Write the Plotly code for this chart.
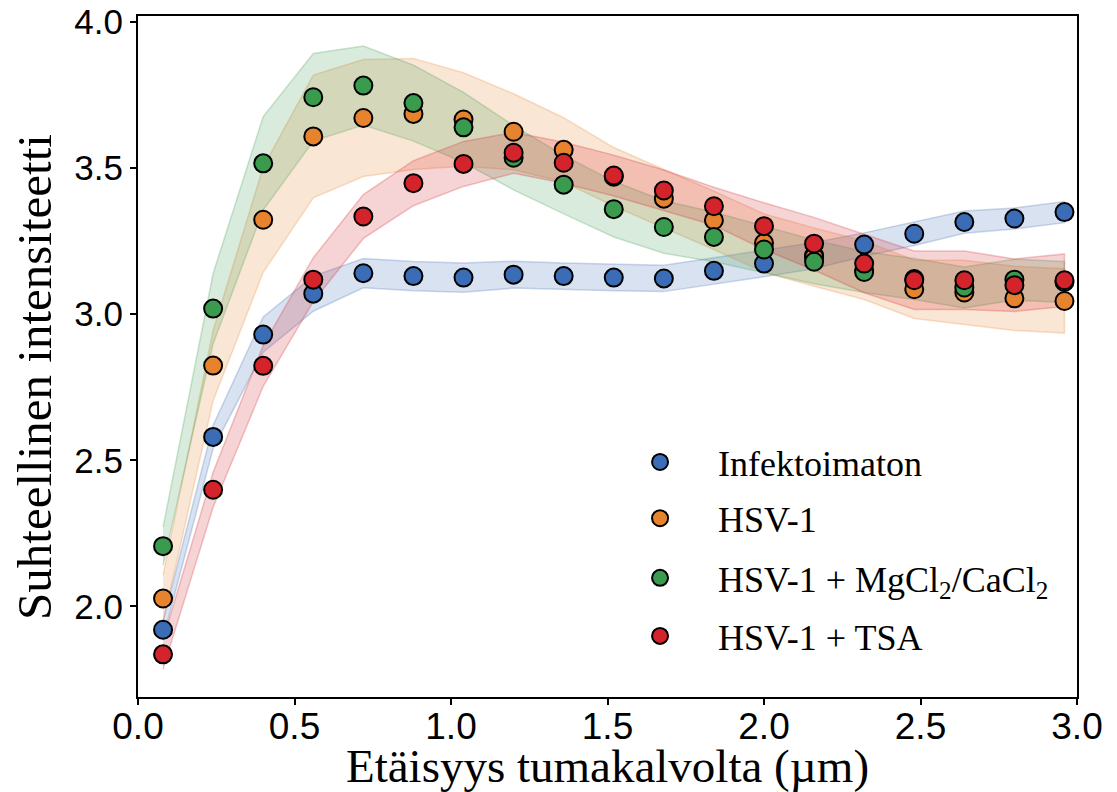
import plotly.graph_objects as go

# distance from nuclear envelope (µm)
x = [0.08, 0.24, 0.40, 0.56, 0.72, 0.88, 1.04, 1.20, 1.36, 1.52,
     1.68, 1.84, 2.00, 2.16, 2.32, 2.48, 2.64, 2.80, 2.96]

names = ["Infektoimaton", "HSV-1", "HSV-1 + MgCl<sub>2</sub>/CaCl<sub>2</sub>", "HSV-1 + TSA"]

infekt_mean = [1.92, 2.58, 2.93, 3.07, 3.14, 3.13, 3.125, 3.135, 3.13, 3.125,
               3.122, 3.148, 3.173, 3.20, 3.238, 3.275, 3.315, 3.327, 3.349]
infekt_sd = [0.03, 0.04, 0.06, 0.06, 0.05, 0.05, 0.05, 0.046, 0.045, 0.045,
             0.045, 0.045, 0.045, 0.045, 0.04, 0.04, 0.038, 0.036, 0.036]

hsv_mean = [2.027, 2.824, 3.323, 3.608, 3.671, 3.685, 3.666, 3.624, 3.562, 3.47,
            3.395, 3.321, 3.243, 3.195, 3.15, 3.085, 3.074, 3.054, 3.045]
hsv_sd = [0.08, 0.12, 0.18, 0.21, 0.20, 0.19, 0.16, 0.13, 0.11, 0.10,
          0.10, 0.10, 0.10, 0.10, 0.10, 0.10, 0.11, 0.11, 0.11]

mg_mean = [2.206, 3.019, 3.516, 3.742, 3.782, 3.722, 3.639, 3.535, 3.443, 3.359,
           3.298, 3.264, 3.221, 3.179, 3.144, 3.12, 3.091, 3.118, 3.11]
mg_sd = [0.065, 0.12, 0.16, 0.15, 0.135, 0.13, 0.12, 0.11, 0.10, 0.095,
         0.09, 0.085, 0.08, 0.075, 0.07, 0.07, 0.07, 0.07, 0.07]

tsa_mean = [1.836, 2.399, 2.823, 3.118, 3.334, 3.448, 3.514, 3.552, 3.518, 3.474,
            3.423, 3.369, 3.301, 3.241, 3.173, 3.116, 3.116, 3.099, 3.116]
tsa_sd = [0.05, 0.06, 0.07, 0.075, 0.075, 0.077, 0.077, 0.07, 0.07, 0.07,
          0.07, 0.065, 0.08, 0.09, 0.10, 0.10, 0.10, 0.09, 0.09]

means = [infekt_mean, hsv_mean, mg_mean, tsa_mean]
sds = [infekt_sd, hsv_sd, mg_sd, tsa_sd]
colors = ["#3a6db5", "#e6832f", "#3a9a4e", "#d2242a"]
fills = ["rgba(58,109,181,0.2)", "rgba(230,131,47,0.2)", "rgba(58,154,78,0.2)", "rgba(210,36,42,0.2)"]
edges = ["rgba(58,109,181,0.25)", "rgba(230,131,47,0.25)", "rgba(58,154,78,0.25)", "rgba(210,36,42,0.25)"]

fig = go.Figure()

for m, s, fc, ec in zip(means, sds, fills, edges):
    upper = [a + b for a, b in zip(m, s)]
    lower = [a - b for a, b in zip(m, s)]
    fig.add_trace(go.Scatter(
        x=x + x[::-1], y=upper + lower[::-1],
        fill="toself", fillcolor=fc, mode="lines",
        line=dict(color=ec, width=1.5),
        showlegend=False, hoverinfo="skip"))

legend_ids = ["legend", "legend2", "legend3", "legend4"]
for m, c, n, lid in zip(means, colors, names, legend_ids):
    fig.add_trace(go.Scatter(
        x=x, y=m, mode="markers", name=n, legend=lid,
        marker=dict(size=18, color=c, line=dict(color="black", width=2))))

serif = "Liberation Serif"
sans = "Liberation Sans"

leg_y = [0.345, 0.2624, 0.1748, 0.0896]
leg_common = dict(x=0.4942, xanchor="left", yanchor="middle",
                  bgcolor="rgba(0,0,0,0)", borderwidth=0,
                  font=dict(family=serif, size=36, color="black"),
                  itemwidth=106)

layout_legs = {}
for lid, ly in zip(legend_ids, leg_y):
    layout_legs[lid] = dict(leg_common, y=ly)

fig.update_layout(
    width=1109, height=784,
    margin=dict(l=130, r=40, t=8, b=95),
    plot_bgcolor="white", paper_bgcolor="white",
    **layout_legs,
)

# y-axis title (placed as rotated text, slightly below the axis centre as in the original)
fig.add_annotation(
    text="Suhteellinen intensiteetti", textangle=-90,
    xref="paper", yref="paper", x=-0.1097, y=0.47,
    xanchor="center", yanchor="middle", showarrow=False,
    font=dict(family=serif, size=49, color="black"))

fig.update_xaxes(
    range=[0, 3.0], tickvals=[0, 0.5, 1.0, 1.5, 2.0, 2.5, 3.0],
    ticktext=["0.0", "0.5", "1.0", "1.5", "2.0", "2.5", "3.0"],
    ticks="outside", ticklen=6, tickwidth=1.5, tickcolor="black",
    showline=True, linecolor="black", linewidth=2, mirror=True,
    showgrid=False, zeroline=False, automargin=False,
    ticklabelstandoff=-10, ticklabeloverflow="allow",
    tickfont=dict(family=sans, size=37, color="black"),
    title=dict(text="Etäisyys tumakalvolta (µm)", standoff=4,
               font=dict(family=serif, size=47, color="black")))

fig.update_yaxes(
    range=[1.69, 4.02], tickvals=[2.0, 2.5, 3.0, 3.5, 4.0],
    ticktext=["2.0", "2.5", "3.0", "3.5", "4.0"],
    ticks="outside", ticklen=6, tickwidth=1.5, tickcolor="black",
    showline=True, linecolor="black", linewidth=2, mirror=True,
    showgrid=False, zeroline=False, automargin=False,
    ticklabeloverflow="allow",
    tickfont=dict(family=sans, size=35, color="black"))

fig.write_html("out.html")
